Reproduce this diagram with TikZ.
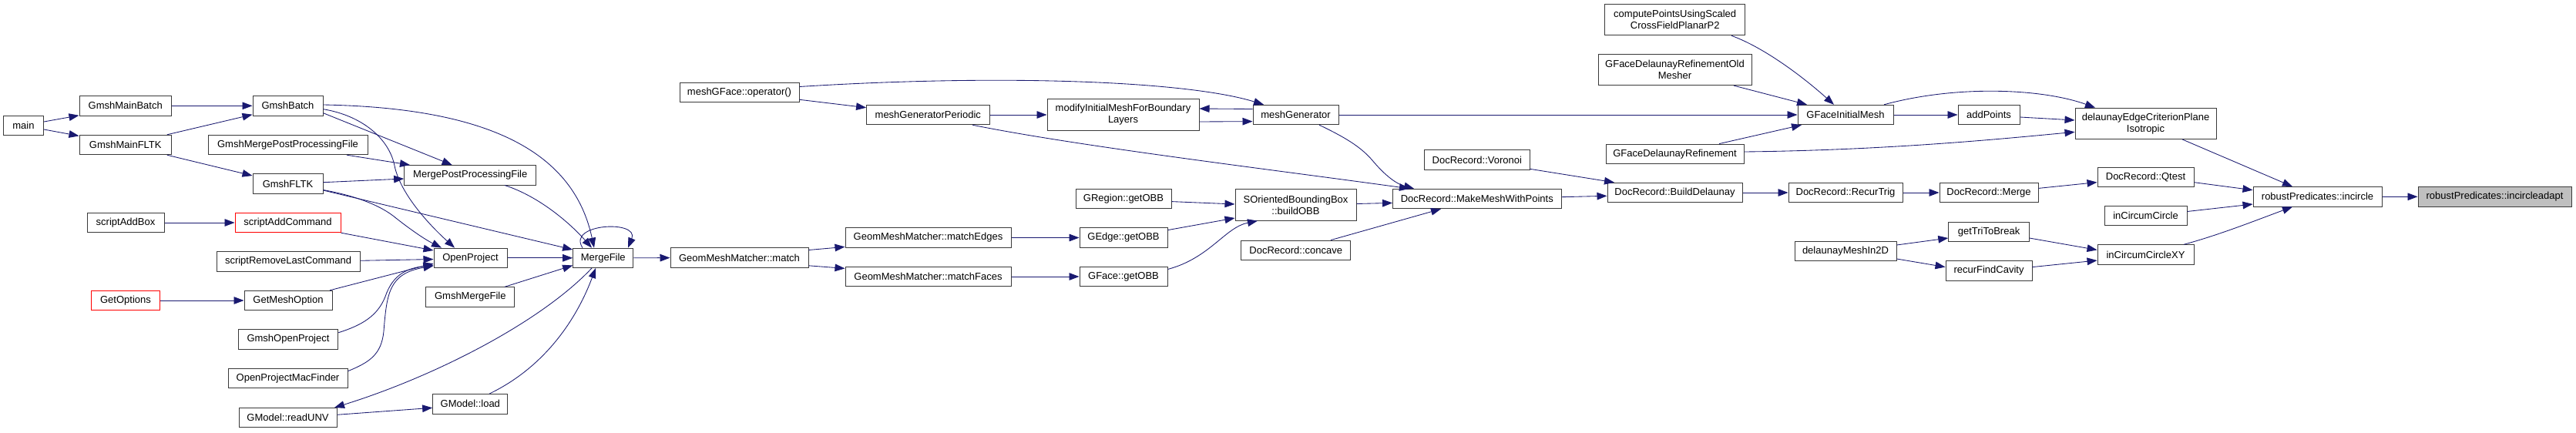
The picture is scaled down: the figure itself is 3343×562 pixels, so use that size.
\documentclass[tikz,border=0pt]{standalone}
\usepackage{fontspec}
\setmainfont{Liberation Sans}
\usetikzlibrary{arrows.meta}
\definecolor{ecol}{HTML}{191970}
\definecolor{bcol}{HTML}{3A3A3A}
\definecolor{rcol}{HTML}{FF0000}
\definecolor{gfill}{HTML}{BFBFBF}
\begin{document}
\begin{tikzpicture}[x=1pt,y=-1pt,
  box/.style={draw=bcol,line width=1pt,fill=white,inner sep=0pt,minimum height=25.4pt,
    font=\fontsize{13pt}{15pt}\selectfont,align=center,text=black},
  redbox/.style={box,draw=rcol},
  tallbox/.style={box,minimum height=40.2pt},
  edge/.style={draw=ecol,line width=0.85pt,-{Triangle[length=13pt,width=9.6pt]},fill=none}]
\useasboundingbox (0,0) rectangle (3343,562);
\fill[white] (0,0) rectangle (3343,562);
% ---------------- nodes ----------------
\node[box,minimum width=52pt] (main) at (30.5,162.7) {main};
\node[box,minimum width=119.5pt] (GmshMainBatch) at (162.75,137.3) {GmshMainBatch};
\node[box,minimum width=119.5pt] (GmshMainFLTK) at (162.75,188) {GmshMainFLTK};
\node[box,minimum width=91pt] (GmshBatch) at (373.5,137.3) {GmshBatch};
\node[box,minimum width=207pt] (GmshMPPF) at (373.5,188) {GmshMergePostProcessingFile};
\node[box,minimum width=91pt] (GmshFLTK) at (373.5,238.4) {GmshFLTK};
\node[box,minimum width=100pt] (scriptAddBox) at (163,289) {scriptAddBox};
\node[redbox,minimum width=137pt] (scriptAddCommand) at (373.5,289) {scriptAddCommand};
\node[box,minimum width=186pt] (scriptRLC) at (374,339.3) {scriptRemoveLastCommand};
\node[redbox,minimum width=89pt] (GetOptions) at (163,390) {GetOptions};
\node[box,minimum width=114pt] (GetMeshOption) at (374,390) {GetMeshOption};
\node[box,minimum width=129.6pt] (GmshOpenProject) at (374,440.6) {GmshOpenProject};
\node[box,minimum width=155pt] (OPMacFinder) at (373.5,491) {OpenProjectMacFinder};
\node[box,minimum width=127pt] (readUNV) at (373.5,542.2) {GModel::readUNV};
\node[box,minimum width=171.3pt] (MPPF) at (610.3,227.3) {MergePostProcessingFile};
\node[box,minimum width=95pt] (OpenProject) at (610.5,334.8) {OpenProject};
\node[box,minimum width=78.3pt] (MergeFile) at (782.8,334.8) {MergeFile};
\node[box,minimum width=179pt] (match) at (959.5,334.6) {GeomMeshMatcher::match};
\node[box,minimum width=114.7pt] (GmshMergeFile) at (610.3,385.5) {GmshMergeFile};
\node[box,minimum width=97.3pt] (load) at (610.3,524.3) {GModel::load};
\node[box,minimum width=155pt] (meshGFaceOp) at (959.5,120) {meshGFace::operator()};
\node[box,minimum width=159.4pt] (meshGenPer) at (1204.3,149) {meshGeneratorPeriodic};
\node[tallbox,minimum width=197pt] (modifyInit) at (1457.5,149) {modifyInitialMeshForBoundary\\Layers};
\node[box,minimum width=124pt] (GRegionOBB) at (1458,258) {GRegion::getOBB};
\node[box,minimum width=215pt] (matchEdges) at (1204.5,308.5) {GeomMeshMatcher::matchEdges};
\node[box,minimum width=114pt] (GEdgeOBB) at (1458,308.5) {GEdge::getOBB};
\node[box,minimum width=215pt] (matchFaces) at (1204.5,359) {GeomMeshMatcher::matchFaces};
\node[box,minimum width=114pt] (GFaceOBB) at (1458,359) {GFace::getOBB};
\node[tallbox,minimum width=157pt] (buildOBB) at (1681.5,266) {SOrientedBoundingBox\\::buildOBB};
\node[box,minimum width=111pt] (meshGenerator) at (1681.5,149) {meshGenerator};
\node[box,minimum width=141.5pt] (concave) at (1681.7,324.8) {DocRecord::concave};
\node[box,minimum width=136.4pt] (Voronoi) at (1916.8,207.6) {DocRecord::Voronoi};
\node[box,minimum width=218.5pt] (MakeMesh) at (1916.8,258) {DocRecord::MakeMeshWithPoints};
\node[box,minimum width=175pt] (BuildDelaunay) at (2173.5,250) {DocRecord::BuildDelaunay};
\node[tallbox,minimum width=182.5pt] (computePoints) at (2173.7,25.7) {computePointsUsingScaled\\CrossFieldPlanarP2};
\node[tallbox,minimum width=199pt] (GFDROld) at (2173.5,90.5) {GFaceDelaunayRefinementOld\\Mesher};
\node[box,minimum width=179pt] (GFDR) at (2173.5,199.8) {GFaceDelaunayRefinement};
\node[box,minimum width=124pt] (GFInitMesh) at (2395,149) {GFaceInitialMesh};
\node[box,minimum width=80pt] (addPoints) at (2581,149) {addPoints};
\node[tallbox,minimum width=183pt] (delEdge) at (2784.5,160.3) {delaunayEdgeCriterionPlane\\Isotropic};
\node[box,minimum width=148pt] (RecurTrig) at (2395,250) {DocRecord::RecurTrig};
\node[box,minimum width=128pt] (Merge) at (2581,250) {DocRecord::Merge};
\node[box,minimum width=125pt] (Qtest) at (2784.5,230) {DocRecord::Qtest};
\node[box,minimum width=107pt] (inCC) at (2784.5,279.7) {inCircumCircle};
\node[box,minimum width=104.5pt] (getTri) at (2581,300.8) {getTriToBreak};
\node[box,minimum width=132pt] (dMeshIn2D) at (2395,325.8) {delaunayMeshIn2D};
\node[box,minimum width=112pt] (recurFC) at (2581,351.3) {recurFindCavity};
\node[box,minimum width=125pt] (inCCXY) at (2784.5,330.5) {inCircumCircleXY};
\node[box,minimum width=167pt] (incircle) at (3007.5,255.3) {robustPredicates::incircle};
\node[box,minimum width=199pt,fill=gfill] (incircleadapt) at (3237.5,255.3) {robustPredicates::incircleadapt};
% ---------------- edges ----------------
\draw[edge] (main.east |- 0,158) -- (GmshMainBatch.west |- 0,149.8);
\draw[edge] (main.east |- 0,168) -- (GmshMainFLTK.west |- 0,176.4);
\draw[edge] (GmshMainBatch.east) -- (GmshBatch.west);
\draw[edge] (GmshMainFLTK.north -| 216.8,0) -- (GmshBatch.west |- 0,148.7);
\draw[edge] (GmshMainFLTK.south -| 216.8,0) -- (GmshFLTK.west |- 0,228);
\draw[edge] (GmshBatch.east |- 0,136) .. controls (640,140) and (745,200) .. (MergeFile.north -| 771,0);
\draw[edge] (GmshBatch.east |- 0,146.7) -- (MPPF.north -| 586.7,0);
\draw[edge] (GmshBatch.east |- 0,141.7) .. controls (470,150) and (505,180) .. (512,215) .. controls (519,250) and (555,290) .. (OpenProject.north -| 590,0);
\draw[edge] (GmshMPPF.south -| 450,0) -- (MPPF.north -| 532,0);
\draw[edge] (GmshFLTK.east |- 0,236.7) -- (MPPF.west |- 0,232);
\draw[edge] (GmshFLTK.east |- 0,246.5) .. controls (460,254) and (490,265) .. (510,280) .. controls (530,296) and (550,310) .. (OpenProject.north -| 573,0);
\draw[edge] (GmshFLTK.east |- 0,247) -- (MergeFile.west |- 0,324);
\draw[edge] (scriptAddBox.east) -- (scriptAddCommand.west);
\draw[edge] (scriptAddCommand.south east) -- (OpenProject.west |- 0,325);
\draw[edge] (scriptRLC.east |- 0,338.3) -- (OpenProject.west |- 0,336.5);
\draw[edge] (GetOptions.east) -- (GetMeshOption.west);
\draw[edge] (GetMeshOption.north -| 428,0) -- (OpenProject.west |- 0,342);
\draw[edge] (GmshOpenProject.east |- 0,431.7) .. controls (470,422) and (490,410) .. (500,385) .. controls (510,355) and (530,348) .. (OpenProject.west |- 0,344);
\draw[edge] (OPMacFinder.east |- 0,481.7) .. controls (480,470) and (495,460) .. (498,430) .. controls (502,380) and (505,355) .. (OpenProject.west |- 0,345);
\draw[edge] (MergeFile.south -| 768,0) .. controls (700,420) and (560,490) .. (readUNV.north -| 434,0);
\draw[edge] (readUNV.east |- 0,538.3) -- (load.west |- 0,529.3);
\draw[edge] (load.north -| 635,0) .. controls (710,475) and (750,410) .. (MergeFile.south -| 773,0);
\draw[edge] (GmshMergeFile.north -| 655,0) -- (MergeFile.west |- 0,344.5);
\draw[edge] (MPPF.south -| 655,0) .. controls (700,255) and (740,290) .. (MergeFile.north -| 768,0);
\draw[edge] (OpenProject.east) -- (MergeFile.west);
\draw[edge] (MergeFile.north -| 756,0) .. controls (735,290) and (830,285) .. (MergeFile.north -| 815,0);
\draw[edge] (MergeFile.east) -- (match.west);
\draw[edge] (match.east |- 0,324.5) -- (matchEdges.west |- 0,320.4);
\draw[edge] (match.east |- 0,344.8) -- (matchFaces.west |- 0,348.4);
\draw[edge] (matchEdges.east) -- (GEdgeOBB.west);
\draw[edge] (matchFaces.east) -- (GFaceOBB.west);
\draw[edge] (GRegionOBB.east |- 0,261.6) -- (buildOBB.west |- 0,265);
\draw[edge] (GEdgeOBB.east |- 0,298.6) -- (buildOBB.west |- 0,283);
\draw[edge] (GFaceOBB.east |- 0,349.5) .. controls (1570,335) and (1590,295) .. (buildOBB.south -| 1632,0);
\draw[edge] (buildOBB.east |- 0,264.5) -- (MakeMesh.west |- 0,263.4);
\draw[edge] (meshGFaceOp.east |- 0,112.5) .. controls (1300,96) and (1540,105) .. (meshGenerator.north -| 1640,0);
\draw[edge] (meshGFaceOp.east |- 0,129.3) -- (meshGenPer.west |- 0,139.7);
\draw[edge] (meshGenPer.east) -- (modifyInit.west |- 0,149);
\draw[edge] (meshGenPer.south -| 1262,0) .. controls (1400,190) and (1650,220) .. (MakeMesh.north -| 1829,0);
\draw[edge] (meshGenerator.west |- 0,141.5) -- (modifyInit.east |- 0,141);
\draw[edge] (modifyInit.east |- 0,158) -- (meshGenerator.west |- 0,157.6);
\draw[edge] (meshGenerator.south -| 1712,0) .. controls (1745,178) and (1765,190) .. (1780,207) .. controls (1795,225) and (1810,238) .. (MakeMesh.north -| 1835,0);
\draw[edge] (meshGenerator.east) -- (GFInitMesh.west);
\draw[edge] (concave.north -| 1727,0) -- (MakeMesh.south -| 1870,0);
\draw[edge] (Voronoi.east |- 0,219.3) -- (BuildDelaunay.north -| 2095,0);
\draw[edge] (MakeMesh.east |- 0,255.7) -- (BuildDelaunay.west |- 0,254.3);
\draw[edge] (BuildDelaunay.east) -- (RecurTrig.west);
\draw[edge] (RecurTrig.east) -- (Merge.west);
\draw[edge] (Merge.east |- 0,244.4) -- (Qtest.west |- 0,236.6);
\draw[edge] (computePoints.south -| 2247,0) .. controls (2290,62) and (2340,100) .. (GFInitMesh.north -| 2380,0);
\draw[edge] (GFDROld.south -| 2250,0) -- (GFInitMesh.north -| 2345,0);
\draw[edge] (GFDR.north -| 2231,0) -- (GFInitMesh.south -| 2338,0);
\draw[edge] (GFDR.east |- 0,197) .. controls (2450,195) and (2600,180) .. (delEdge.west |- 0,171.3);
\draw[edge] (GFInitMesh.east) -- (addPoints.west);
\draw[edge] (GFInitMesh.north -| 2445,0) .. controls (2540,110) and (2650,115) .. (delEdge.north -| 2719,0);
\draw[edge] (addPoints.east |- 0,152) -- (delEdge.west |- 0,156);
\draw[edge] (delEdge.south -| 2832,0) -- (incircle.north -| 2975,0);
\draw[edge] (Qtest.east |- 0,236.7) -- (incircle.west |- 0,246.7);
\draw[edge] (inCC.east |- 0,274.5) -- (incircle.west |- 0,265);
\draw[edge] (inCCXY.north -| 2834,0) .. controls (2880,305) and (2930,285) .. (incircle.south -| 2975,0);
\draw[edge] (incircle.east) -- (incircleadapt.west);
\draw[edge] (dMeshIn2D.east |- 0,318) -- (getTri.west |- 0,309);
\draw[edge] (dMeshIn2D.east |- 0,336) -- (recurFC.west |- 0,346.6);
\draw[edge] (getTri.east |- 0,309) -- (inCCXY.west |- 0,324.4);
\draw[edge] (recurFC.east |- 0,346.6) -- (inCCXY.west |- 0,338);
\end{tikzpicture}
\end{document}
